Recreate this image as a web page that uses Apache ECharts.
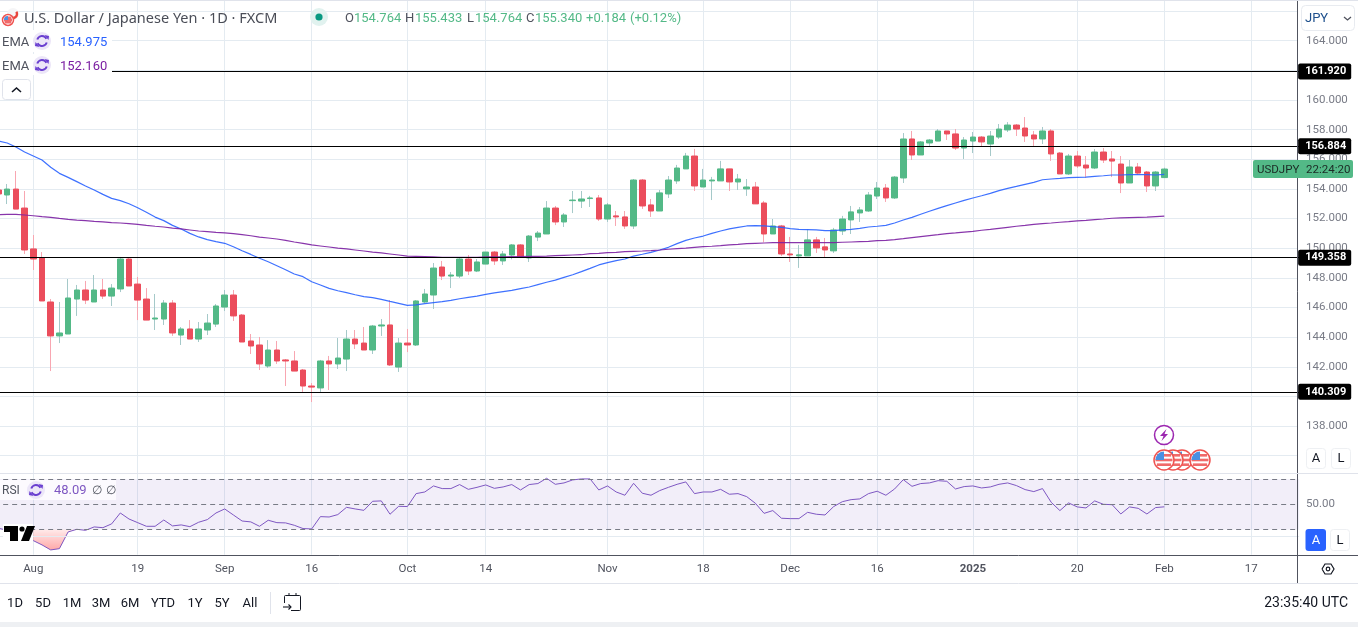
<!DOCTYPE html>
<html><head><meta charset="utf-8">
<style>html,body{margin:0;padding:0;background:#fff}#c{width:1358px;height:627px}</style>
<script src="https://cdn.jsdelivr.net/npm/echarts@6/dist/echarts.min.js"></script>
</head><body><div id="c"></div><script>
// [open, close, low, high], first entry is four sessions before 1 Aug 2024
const candles = [
[153.93,153.66,153.66,153.93],[153.59,153.99,152.98,154.33],[153.99,152.64,152.64,155.21],[152.71,149.88,149.61,153.86],
[149.95,149.27,148.53,150.89],[149.34,146.44,146.44,149.74],[146.37,144.08,141.71,146.57],[144.08,144.28,143.60,146.37],
[144.21,146.64,144.21,147.92],[146.57,147.18,145.43,147.52],[147.18,146.50,146.23,147.79],[146.37,147.18,146.37,148.19],
[147.18,146.77,146.57,147.92],[146.77,147.31,146.10,147.58],[147.25,149.27,147.04,149.41],[149.27,147.45,147.45,149.34],
[147.58,146.50,145.15,148.06],[146.57,145.15,145.15,147.31],[145.22,145.29,144.48,146.91],[145.22,146.30,144.82,146.50],
[146.30,144.28,144.08,146.50],[144.14,144.55,143.47,144.68],[144.55,143.87,143.87,145.15],[143.87,144.55,143.67,145.02],
[144.48,144.95,144.14,145.56],[144.88,146.10,144.68,146.23],[146.03,146.84,145.76,147.18],[146.84,145.43,145.09,147.18],
[145.49,143.67,143.67,145.56],[143.74,143.40,142.86,144.21],[143.47,142.19,141.78,144.01],[142.05,143.13,141.92,143.80],
[143.13,142.39,142.19,143.74],[142.46,142.39,140.70,142.52],[142.39,141.71,141.71,143.06],[141.78,140.70,140.30,141.85],
[140.70,140.63,139.62,140.90],[140.57,142.39,140.30,142.46],[142.39,142.19,140.43,142.73],[142.19,142.59,141.85,143.94],
[142.52,143.87,141.71,144.48],[143.87,143.54,143.20,144.48],[143.60,143.13,143.13,144.68],[143.13,144.75,142.86,144.82],
[144.75,144.82,144.08,145.22],[144.82,142.12,142.05,146.50],[141.98,143.60,141.65,143.94],[143.60,143.47,142.99,144.55],
[143.47,146.44,143.40,146.50],[146.37,146.91,146.30,147.25],[146.84,148.66,145.90,149.00],[148.73,148.12,147.85,149.14],
[148.12,148.19,147.31,148.39],[148.12,149.27,147.99,149.34],[149.27,148.46,148.19,149.54],[148.46,149.07,148.39,149.27],
[148.93,149.74,148.93,149.74],[149.74,149.14,148.87,149.81],[149.14,149.61,148.87,149.81],[149.54,150.22,149.25,150.28],
[150.22,149.38,149.38,150.28],[149.34,150.82,149.07,150.89],[150.75,151.02,150.48,151.16],[150.96,152.71,150.96,153.18],
[152.71,151.77,151.56,152.85],[151.77,152.24,151.43,152.37],[153.21,153.25,152.37,153.86],[153.18,153.32,152.71,153.86],
[153.35,153.39,152.78,153.53],[153.39,151.97,151.84,153.59],[151.97,152.92,151.77,153.05],[152.18,152.11,151.50,152.51],
[152.11,151.50,151.30,152.51],[151.50,154.60,151.30,154.67],[154.60,152.85,152.65,154.67],[152.92,152.51,152.11,153.32],
[152.51,153.73,152.51,153.93],[153.66,154.60,153.39,154.87],[154.54,155.41,154.34,155.62],[155.35,156.22,155.35,156.43],
[156.22,154.20,153.86,156.70],[154.13,154.60,154.13,155.35],[154.54,154.60,153.25,154.81],[154.54,155.35,154.54,155.89],
[155.35,154.47,153.86,155.35],[154.47,154.67,153.93,155.01],[154.00,154.13,153.53,154.67],[154.13,152.99,152.99,154.47],
[153.05,150.96,150.40,153.19],[150.96,151.50,150.96,151.97],[151.50,149.61,149.48,151.57],[149.61,149.55,149.07,150.76],
[149.48,149.55,148.67,150.22],[149.48,150.56,149.48,151.28],[150.56,150.02,149.68,150.76],[150.09,149.88,149.34,150.69],
[149.82,151.23,149.68,151.37],[151.16,151.97,150.89,152.18],[151.91,152.45,150.96,152.85],[152.38,152.58,151.77,152.78],
[152.51,153.59,152.45,153.79],[153.52,154.06,153.32,154.47],[154.06,153.39,153.12,154.33],[153.39,154.80,153.32,154.87],
[154.74,157.37,154.40,157.77],[157.37,156.29,155.95,157.91],[156.29,157.17,156.29,157.23],[157.10,157.30,156.90,157.37],
[157.23,157.91,157.23,158.04],[157.91,157.71,157.30,157.91],[157.71,156.76,156.63,158.04],[156.76,157.30,156.02,157.50],
[157.23,157.50,156.42,157.84],[157.50,157.17,156.83,157.57],[157.03,157.57,156.22,157.91],[157.50,158.04,157.37,158.38],
[157.98,158.31,157.84,158.51],[158.31,158.04,157.57,158.38],[158.11,157.57,157.17,158.85],[157.64,157.37,156.90,157.91],
[157.37,157.91,157.03,158.18],[157.91,156.36,155.89,158.04],[156.42,155.01,155.01,156.49],[155.01,156.22,154.94,156.36],
[156.22,155.55,155.41,156.56],[155.61,155.41,154.74,156.22],[155.41,156.49,155.34,156.69],[156.49,155.95,155.75,156.76],
[156.02,155.88,154.80,156.56],[155.68,154.40,153.72,156.22],[154.40,155.48,154.40,155.95],[155.48,155.07,154.94,155.75],
[155.14,154.20,153.79,155.21],[154.20,155.14,153.86,155.21],[154.764,155.340,154.764,155.433]];
const emaFast = [157.23,157.10,156.83,156.49,156.22,155.95,155.46,155.05,154.78,154.49,154.20,153.93,153.63,153.36,153.21,153.00,152.73,152.42,152.10,151.86,151.54,151.30,151.00,150.76,150.58,150.44,150.33,150.10,149.83,149.58,149.32,149.09,148.82,148.55,148.26,148.08,147.74,147.52,147.29,147.13,147.00,146.86,146.73,146.66,146.55,146.41,146.28,146.14,146.17,146.26,146.33,146.39,146.48,146.59,146.68,146.77,146.89,146.98,147.07,147.16,147.27,147.38,147.54,147.70,147.85,148.03,148.21,148.42,148.64,148.87,149.03,149.16,149.27,149.47,149.59,149.72,149.88,150.06,150.31,150.53,150.69,150.82,151.00,151.16,151.30,151.41,151.50,151.52,151.50,151.45,151.41,151.32,151.27,151.25,151.23,151.18,151.18,151.23,151.27,151.34,151.43,151.48,151.54,151.70,151.90,152.08,152.29,152.49,152.69,152.87,153.05,153.23,153.39,153.54,153.70,153.88,154.04,154.17,154.31,154.44,154.62,154.67,154.71,154.76,154.78,154.80,154.85,154.89,154.94,154.94,154.96,154.96,154.96,154.94,154.975];
const emaSlow = [152.26,152.28,152.28,152.24,152.19,152.13,152.08,152.01,151.95,151.90,151.86,151.81,151.77,151.72,151.70,151.66,151.61,151.54,151.48,151.43,151.36,151.30,151.23,151.16,151.12,151.07,151.03,150.98,150.91,150.84,150.75,150.69,150.62,150.53,150.42,150.33,150.22,150.15,150.08,150.01,149.95,149.88,149.81,149.74,149.68,149.61,149.54,149.47,149.45,149.43,149.41,149.38,149.38,149.38,149.38,149.38,149.41,149.41,149.41,149.43,149.43,149.45,149.45,149.47,149.50,149.52,149.54,149.56,149.63,149.65,149.70,149.72,149.77,149.79,149.81,149.84,149.88,149.93,149.97,150.01,150.06,150.10,150.13,150.17,150.22,150.26,150.31,150.33,150.35,150.37,150.37,150.37,150.37,150.37,150.37,150.37,150.37,150.40,150.42,150.44,150.46,150.51,150.53,150.58,150.64,150.71,150.78,150.85,150.91,150.98,151.03,151.09,151.14,151.21,151.27,151.34,151.41,151.48,151.54,151.61,151.66,151.70,151.75,151.79,151.84,151.88,151.93,151.97,152.02,152.04,152.06,152.08,152.10,152.13,152.16];
const rsiValues = [31.0,29.5,27.0,24.5,21.2,17.8,13.8,14.8,28.1,30.2,29.4,32.1,31.5,34.5,43.2,38.4,35.5,32.6,32.6,37.6,32.9,33.7,32.3,35.8,37.9,43.2,46.4,41.6,36.8,36.1,32.6,37.4,35.5,35.3,33.4,30.8,30.5,40.3,40.0,41.9,47.7,46.4,45.3,52.5,52.8,42.2,48.5,48.3,58.6,59.9,64.7,62.6,62.6,65.8,62.0,63.6,65.5,62.8,63.9,65.8,61.5,65.8,66.6,70.8,66.0,67.1,69.5,70.3,70.3,61.5,64.7,59.9,57.3,66.8,58.9,57.3,61.0,63.6,66.0,67.9,58.6,59.9,59.9,62.0,58.1,58.6,56.2,50.9,42.9,45.1,39.0,38.7,38.7,43.7,42.2,41.6,48.3,52.2,53.8,54.4,58.6,60.5,57.3,62.3,69.7,64.4,66.6,67.1,68.9,68.4,62.3,64.2,64.7,63.1,63.9,66.0,67.1,65.0,61.8,60.2,62.6,51.7,45.1,51.2,48.0,47.2,52.8,50.1,49.8,42.4,48.0,46.9,42.4,47.5,48.09];
const levels = [161.920,156.884,149.358,140.309];
const tickBars = [4,16,26,36,47,56,70,81,91,101,112,124,134,144];
const tickLabels = ['Aug','19','Sep','16','Oct','14','Nov','18','Dec','16','2025','20','Feb','17'];
const rangeButtons = ['1D','5D','1M','3M','6M','YTD','1Y','5Y','All'];
const categories = []; for (let i = 0; i < 150; i++) categories.push('b' + i);

const FONT = 'Roboto';
const GRID = '#e4ebf1', AXIS = '#50535e', TXT = '#787b86';
const UP = '#53b987', DOWN = '#eb4d5c', UPW = '#a5c9c9', DOWNW = '#f8a6b1';
const bodies = candles.map(c => [c[0], c[1], Math.min(c[0], c[1]), Math.max(c[0], c[1])]);
const osBase = rsiValues.map(v => Math.min(v, 30));
const osFill = osBase.map(v => +(30 - v).toFixed(2));
const isTick = i => tickBars.includes(i);

const T = (text, x, y, fill, size, extra) => ({type:'text', z:20, silent:true,
  style:Object.assign({text, x, y:y + 1.5, fill, font:`${size||13}px ${FONT}`, textVerticalAlign:'middle'}, extra||{})});
const R = (x, y, w, h, fill, stroke, r, z) => ({type:'rect', z:z||19, silent:true,
  shape:{x, y, width:w, height:h, r:r||0}, style:{fill:fill||'#fff', stroke:stroke||'none', lineWidth:1}});
const L = (x1, y1, x2, y2, c, w) => ({type:'line', z:18, silent:true,
  shape:{x1, y1, x2, y2}, style:{stroke:c, lineWidth:w||1}});
const P = (pts, c, w, fill) => ({type: fill ? 'polygon':'polyline', z:21, silent:true,
  shape:{points:pts}, style:{stroke:fill?'none':c, fill:fill?c:'none', lineWidth:w||1.5}});

function usFlag(cx, cy, r, z) {
  const out = [{type:'circle', z, silent:true, shape:{cx, cy, r}, style:{fill:'#fff', stroke:'#ef5350', lineWidth:1.5}}];
  const ri = r - 1.5;
  [-0.55, 0, 0.55].forEach(k => {
    const dy = k * ri;
    const hw = Math.sqrt(Math.max(0, ri * ri - dy * dy));
    out.push({type:'rect', z, silent:true, shape:{x:cx - hw, y:cy + dy - 1.3, width:hw * 2, height:2.6}, style:{fill:'#f06a6a'}});
  });
  out.push({type:'sector', z, silent:true, shape:{cx, cy, r:ri, r0:0, startAngle:Math.PI, endAngle:Math.PI * 1.5}, style:{fill:'#4a90e2'}});
  return out;
}
function refreshIcon(cx, cy) {
  return [{type:'circle', z:20, silent:true, shape:{cx, cy, r:9}, style:{fill:'#ece6f8'}},
    {type:'arc', z:21, silent:true, shape:{cx, cy, r:5, startAngle:Math.PI * 1.1, endAngle:Math.PI * 1.85}, style:{stroke:'#6a3fd0', lineWidth:2, fill:'none'}},
    {type:'arc', z:21, silent:true, shape:{cx, cy, r:5, startAngle:Math.PI * 0.1, endAngle:Math.PI * 0.85}, style:{stroke:'#6a3fd0', lineWidth:2, fill:'none'}},
    P([[cx+2.5,cy-6],[cx+7,cy-5],[cx+6.5,cy-1]],'#6a3fd0',0,true),
    P([[cx-2.5,cy+6],[cx-7,cy+5],[cx-6.5,cy+1]],'#6a3fd0',0,true)];
}
const rangeX = [15,43,72,101,130,163,195,222,250];
const G = '#53b987';
const graphics = [
  Object.assign(R(1297.5,0,4,555,'#fff'),{z:1}),
  L(1297.5,0,1297.5,583.5,AXIS), L(0,555.5,1358,555.5,AXIS), L(0,583.5,1358,583.5,'#e0e3eb'),
  L(0,473.5,1358,473.5,'#e0e3eb'),
  Object.assign(R(0,0,1358,1,'#e0e3eb'),{z:18}), Object.assign(R(0,622,1358,5,'#eef0f3'),{z:18}),
  R(0,30,112,22,'#fff'), R(0,54,112,21,'#fff'),
  {type:'circle', z:20, silent:true, shape:{cx:13,cy:14,r:6}, style:{fill:'#f5f5f7'}},
  {type:'arc', z:20, silent:true, shape:{cx:13,cy:14,r:4,startAngle:-0.6,endAngle:1.8}, style:{stroke:'#e8453c',lineWidth:2.4,fill:'none'}},
  ...usFlag(8,20,5.5,21),
  T('U.S. Dollar / Japanese Yen · 1D · FXCM',24,17,'#4a4d57',14.5,{font:'14.5px "Noto Sans"'}),
  {type:'circle', z:20, silent:true, shape:{cx:319,cy:17,r:9}, style:{fill:'#e1f2ef'}},
  {type:'circle', z:21, silent:true, shape:{cx:319,cy:17,r:3.6}, style:{fill:'#089981'}},
  T('O',345,17,'#50535e'), T('154.764',354,17,G), T('H',405,17,'#50535e'), T('155.433',415,17,G),
  T('L',467,17,'#50535e'), T('154.764',475,17,G), T('C',526,17,'#50535e'), T('155.340',535,17,G),
  T('+0.184',586,17,G), T('(+0.12%)',630,17,G),
  T('EMA',2,41,'#50535e'), ...refreshIcon(42,41), T('154.975',60,41,'#2962ff'),
  T('EMA',2,65,'#50535e'), ...refreshIcon(42,65), T('152.160',60,65,'#7b1fa2'),
  R(2.5,79.5,28,20,'#fff','#e0e3eb',3),
  P([[12,92],[16.5,88],[21,92]],'#131722',1.6),
  R(1301.5,5.5,53,25,'#fff','#e8ebf0',4),
  T('JPY',1305,17,'#1d4f8c'), P([[1344,17],[1347.5,20],[1351,17]],'#50535e',1.3),
  Object.assign(R(1253,160,100,18,UP,'none',2),{z:22}),
  Object.assign(T('USDJPY',1257,168.5,'#1c2a25',11.5),{z:23}), Object.assign(T('22:24:20',1306,168.5,'#1c2a25',11.5),{z:23}),
  {type:'circle', z:20, silent:true, shape:{cx:1164,cy:435,r:9.5}, style:{fill:'#fff',stroke:'#9c27b0',lineWidth:1.5}},
  P([[1166.5,429],[1160,436],[1163.5,436],[1161.5,441],[1168,434],[1164.5,434]],'#9c27b0',0,true),
  ...usFlag(1164,460,10,21), ...usFlag(1173,460,10,20.7), ...usFlag(1182,460,10,20.4), ...usFlag(1200,460,10,21.2),
  R(1306.5,448.5,19,20,'#fff','#eef0f3',3), T('A',1316,457.5,'#131722',13,{textAlign:'center'}),
  R(1331.5,448.5,19,20,'#fff','#eef0f3',3), T('L',1341,457.5,'#131722',13,{textAlign:'center'}),
  R(1305.5,529,20.5,22,'#2962ff','none',3), T('A',1316,539,'#fff',13,{textAlign:'center'}),
  R(1330.5,529.5,19,21,'#fff','#eef0f3',3), T('L',1340,539,'#131722',13,{textAlign:'center'}),
  R(0,480,116,20,'rgba(255,255,255,0.72)'),
  T('RSI',2,489,'#50535e',12), ...refreshIcon(36,490), T('48.09',54,489,'#7e57c2'),
  T('∅',92,489,'#50535e',12), T('∅',106,489,'#50535e',12),
  R(3,524,30,19,'#fff'),
  P([[4,526],[18,526],[18,541],[10,541],[10,532],[4,532]],'#000',0,true),
  {type:'circle', z:21, silent:true, shape:{cx:22,cy:529,r:2.6}, style:{fill:'#000'}},
  P([[27,526],[35,526],[29,541],[21,541]],'#000',0,true),
  P([[1322,569],[1325,564],[1331,564],[1334,569],[1331,574],[1325,574],[1322,569]],'#131722',1.2),
  {type:'circle', z:21, silent:true, shape:{cx:1328,cy:569,r:1.8}, style:{fill:'none',stroke:'#131722',lineWidth:1.2}},
  L(270.5,592,270.5,614,'#e0e3eb'),
  R(284.5,595.5,16,15,'#fff','#131722',1,20),
  L(284,600,301,600,'#131722'), L(289,593,289,597,'#131722'), L(296,593,296,597,'#131722'),
  Object.assign(R(282,603,9,9,'#fff'),{z:20}),
  P([[283,607],[291,607]],'#131722',1.1), P([[288.5,604.5],[291,607],[288.5,609.5]],'#131722',1.1),
  T('23:35:40 UTC',1348,602,'#131722',14,{textAlign:'right'}),
  ...rangeButtons.map((t, i) => T(t, rangeX[i], 602, '#131722', 13, {textAlign:'center'}))
];

const chart = echarts.init(document.getElementById('c'), null, {renderer:'canvas', width:1358, height:627});
chart.setOption({
  animation:false, backgroundColor:'#fff',
  textStyle:{fontFamily:FONT},
  grid:[
    {left:-5.85, top:-18.56, width:1305, height:503.88, outerBoundsMode:'none'},
    {left:-5.85, top:473, width:1305, height:81.7, outerBoundsMode:'none'},
    {left:1297, top:-18.56, width:61, height:503.88, outerBoundsMode:'none'},
    {left:1297, top:473, width:61, height:81.7, outerBoundsMode:'none'}
  ],
  xAxis:[
    {type:'category', gridIndex:0, data:categories, axisLine:{show:false}, axisTick:{show:false}, axisLabel:{show:false},
      splitLine:{show:true, alignWithLabel:true, interval:i => isTick(i), lineStyle:{color:GRID}}},
    {type:'category', gridIndex:1, data:categories, position:'bottom', axisLine:{show:false}, axisTick:{show:false},
      axisLabel:{show:true, interval:i => isTick(i), margin:8, color:'#50535e', fontSize:11.5, fontFamily:FONT,
        formatter:(v, i) => { const k = tickBars.indexOf(i); if (k < 0) return ''; return tickLabels[k] === '2025' ? '{b|2025}' : tickLabels[k]; },
        rich:{b:{fontWeight:'bold', color:'#50535e', fontSize:11.5, fontFamily:FONT}}},
      splitLine:{show:true, alignWithLabel:true, interval:i => isTick(i), lineStyle:{color:GRID}}},
    {type:'value', gridIndex:2, show:false, min:0, max:1},
    {type:'value', gridIndex:3, show:false, min:0, max:1}
  ],
  yAxis:[
    {type:'value', gridIndex:0, min:134, max:168, interval:2, position:'right', axisLine:{show:false}, axisTick:{show:false}, axisLabel:{show:false},
      splitLine:{show:true, showMinLine:false, showMaxLine:false, lineStyle:{color:GRID}}},
    {type:'value', gridIndex:1, min:10, max:75, interval:5, axisLine:{show:false}, axisTick:{show:false}, axisLabel:{show:false}, splitLine:{show:false}},
    {type:'value', gridIndex:2, min:134, max:168, interval:2, z:2, axisLine:{show:false}, axisTick:{show:false}, splitLine:{show:false},
      axisLabel:{inside:true, margin:9, color:TXT, fontSize:11.5, fontFamily:FONT, padding:[6,0,0,0],
        formatter:v => (v <= 136 || v >= 166) ? '' : v.toFixed(3)}},
    {type:'value', gridIndex:3, min:10, max:75, interval:5, z:2, axisLine:{show:false}, axisTick:{show:false}, splitLine:{show:false},
      axisLabel:{inside:true, margin:9, color:TXT, fontSize:11.5, fontFamily:FONT, padding:[6,0,0,0],
        formatter:v => v === 50 ? '50.00' : ''}}
  ],
  series:[
    {type:'candlestick', name:'wicks', xAxisIndex:0, yAxisIndex:0, z:2, barWidth:1, data:candles,
      itemStyle:{color:UPW, color0:DOWNW, borderColor:UPW, borderColor0:DOWNW, borderWidth:1}},
    {type:'candlestick', name:'bodies', xAxisIndex:0, yAxisIndex:0, z:3, barWidth:6, data:bodies,
      itemStyle:{color:UP, color0:DOWN, borderColor:UP, borderColor0:DOWN, borderWidth:1}},
    {type:'line', name:'EMA fast', xAxisIndex:0, yAxisIndex:0, z:4, data:emaFast, symbol:'none', lineStyle:{color:'#2962ff', width:1.2, opacity:0.9}},
    {type:'line', name:'EMA slow', xAxisIndex:0, yAxisIndex:0, z:4, data:emaSlow, symbol:'none', lineStyle:{color:'#7b1fa2', width:1.2, opacity:0.9},
      markLine:{silent:true, symbol:'none', z:6, animation:false, precision:3,
        lineStyle:{color:'#000', width:1.2, type:'solid'},
        label:{show:true, position:'end', distance:-1, formatter:p => levels[p.dataIndex].toFixed(3), color:'#fff', backgroundColor:'#000', fontWeight:'bold',
          fontSize:11, fontFamily:FONT, padding:[5,5,0,7], borderRadius:2},
        data:levels.map(v => ({yAxis:v}))}},
    {type:'line', name:'RSI grid', xAxisIndex:1, yAxisIndex:1, z:1, data:[],
      markLine:{silent:true, symbol:'none', label:{show:false}, lineStyle:{color:GRID, width:1, type:'solid'}, data:[{yAxis:25}]}},
    {type:'line', name:'RSI', xAxisIndex:1, yAxisIndex:1, z:4, data:rsiValues, symbol:'none', lineStyle:{color:'#7e57c2', width:1},
      markArea:{silent:true, itemStyle:{color:'rgba(126,87,194,0.1)'}, data:[[{yAxis:70},{yAxis:30}]]},
      markLine:{silent:true, symbol:'none', label:{show:false}, lineStyle:{color:'#787b86', width:1, type:[5,4]}, data:[{yAxis:70},{yAxis:50},{yAxis:30}]}},
    {type:'line', name:'os base', xAxisIndex:1, yAxisIndex:1, z:3, stack:'os', data:osBase, symbol:'none', lineStyle:{width:0}},
    {type:'line', name:'os fill', xAxisIndex:1, yAxisIndex:1, z:3, stack:'os', data:osFill, symbol:'none', lineStyle:{width:0},
      areaStyle:{opacity:1, color:{type:'linear', x:0, y:0, x2:0, y2:1, colorStops:[{offset:0, color:'rgba(255,82,82,0.12)'},{offset:1, color:'rgba(255,82,82,0.5)'}]}}}
  ],
  graphic:{elements:graphics}
});
</script></body></html>
